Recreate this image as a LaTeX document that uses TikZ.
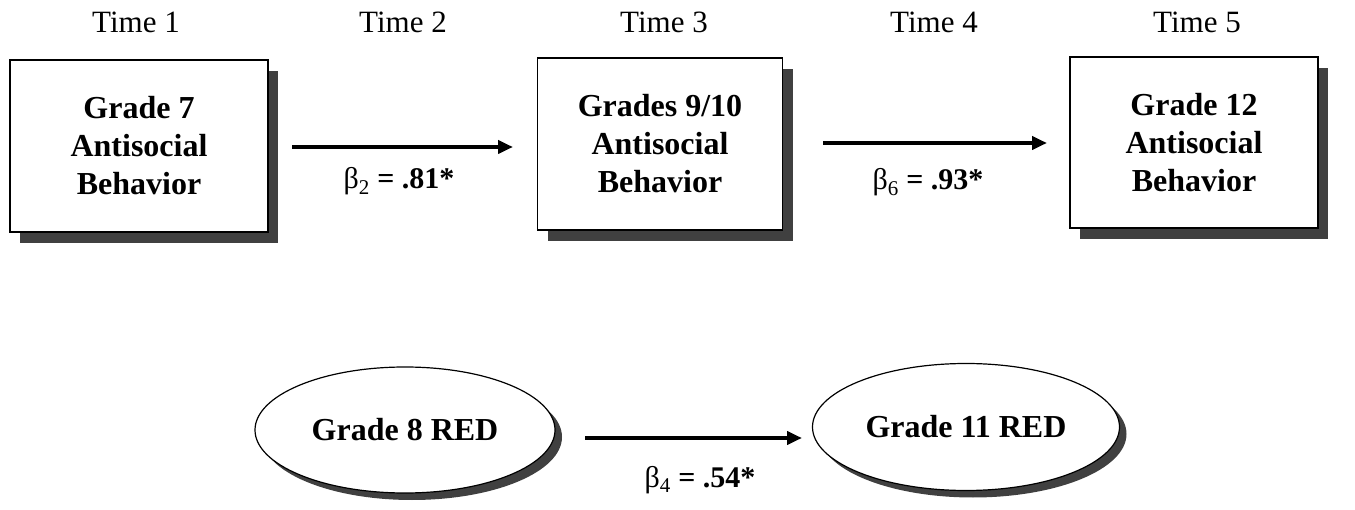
\documentclass[tikz,border=0pt]{standalone}
\usepackage{fontspec}
\setmainfont{Liberation Serif}
\usetikzlibrary{shapes.geometric,shadows,arrows.meta}
\tikzset{
  boxnode/.style={draw=black, line width=1.2pt, fill=white, inner sep=0pt, align=center,
    font=\fontsize{32}{38}\selectfont\bfseries,
    drop shadow={shadow xshift=10pt, shadow yshift=-11pt, fill=black!75, opacity=1}},
  ellnode/.style={ellipse, draw=black, line width=1.2pt, fill=white, inner sep=0pt,
    font=\fontsize{32}{38}\selectfont\bfseries,
    drop shadow={shadow xshift=7pt, shadow yshift=-7pt, fill=black!75, opacity=1}},
  timelbl/.style={anchor=base, inner sep=0pt, font=\fontsize{31}{34}\selectfont},
  betalbl/.style={anchor=base, inner sep=0pt, font=\fontsize{30}{34}\selectfont\bfseries},
  arr/.style={line width=4pt, -{Triangle[length=15pt,width=13pt]}}
}
\begin{document}
\begin{tikzpicture}[x=1pt,y=-1pt]
\useasboundingbox (0,0) rectangle (1355,510);
% time labels
\node[timelbl] (t1) at (136,33) {Time 1};
\node[timelbl] (t2) at (403,33) {Time 2};
\node[timelbl] (t3) at (664,33) {Time 3};
\node[timelbl] (t4) at (934,33) {Time 4};
\node[timelbl] (t5) at (1197,33) {Time 5};
% boxes
\node[boxnode, minimum width=258pt, minimum height=172pt] (b1) at (139,146) {Grade 7\\Antisocial\\Behavior};
\node[boxnode, minimum width=245pt, minimum height=172pt] (b2) at (660,144) {Grades 9/10\\Antisocial\\Behavior};
\node[boxnode, minimum width=248pt, minimum height=171pt] (b3) at (1194,142.5) {Grade 12\\Antisocial\\Behavior};
% ellipses
\node[ellnode, minimum width=300pt, minimum height=126pt] (e1) at (405,430) {Grade 8 RED};
\node[ellnode, minimum width=307pt, minimum height=127pt] (e2) at (966,427) {Grade 11 RED};
% helper coordinates
\coordinate (a1s) at (292,147);
\coordinate (a1e) at (513,147);
\coordinate (a2s) at (823,143);
\coordinate (a2e) at (1047,143);
\coordinate (a3s) at (585,438);
\coordinate (a3e) at (802,438);
% arrows
\draw[arr] (a1s) -- (a1e);
\draw[arr] (a2s) -- (a2e);
\draw[arr] (a3s) -- (a3e);
% beta labels
\node[betalbl] (l1) at (399,189) {{\mdseries β}\textsubscript{\mdseries 2} = .81*};
\node[betalbl] (l2) at (928,190) {{\mdseries β}\textsubscript{\mdseries 6} = .93*};
\node[betalbl] (l3) at (700,487) {{\mdseries β}\textsubscript{\mdseries 4} = .54*};
\end{tikzpicture}
\end{document}
